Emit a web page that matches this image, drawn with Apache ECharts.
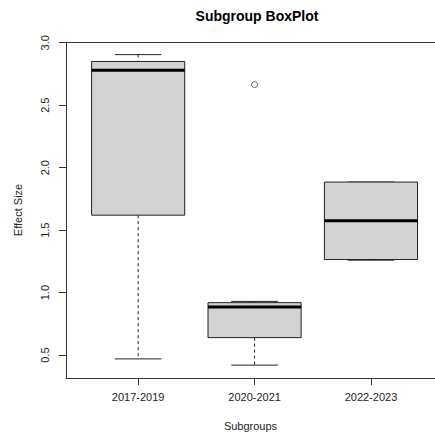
<!DOCTYPE html>
<html>
<head>
<meta charset="utf-8">
<script src="https://cdn.jsdelivr.net/npm/echarts@6/dist/echarts.min.js"></script>
<style>
  html, body { margin: 0; padding: 0; background: #fff; }
  #chart { width: 435px; height: 434px; }
</style>
</head>
<body>
<div id="chart"></div>
<script>
// Five-number summaries per subgroup
const categories = ['2017-2019', '2020-2021', '2022-2023'];
const lowerWhisker = [0.47, 0.42, 1.26];
const lowerQuartile = [1.62, 0.64, 1.265];
const medians = [2.78, 0.885, 1.575];
const upperQuartile = [2.85, 0.92, 1.885];
const upperWhisker = [2.905, 0.93, 1.885];
// Points beyond the whiskers: [group index, value]
const outliers = [[1, 2.665]];
// Tick positions on both axes
const yTicks = [0.5, 1.0, 1.5, 2.0, 2.5, 3.0];
const xTicks = [1, 2, 3];

const boxData = categories.map((c, i) => [
  i + 1, lowerWhisker[i], lowerQuartile[i], medians[i], upperQuartile[i], upperWhisker[i]
]);
const outlierData = outliers.map(o => [o[0] + 1, o[1]]);

const BOX_HALF = 0.4;
const CAP_HALF = 0.2;
const INK = '#222';

// Draws one box: dashed whiskers, staples, filled box and a heavy median bar
function renderBox(params, api) {
  const x = api.value(0);
  const lo = api.value(1), q1 = api.value(2), med = api.value(3), q3 = api.value(4), hi = api.value(5);
  const tl = api.coord([x - BOX_HALF, q3]);
  const br = api.coord([x + BOX_HALF, q1]);
  const mL = api.coord([x - BOX_HALF, med]);
  const mR = api.coord([x + BOX_HALF, med]);
  const cHiL = api.coord([x - CAP_HALF, hi]);
  const cHiR = api.coord([x + CAP_HALF, hi]);
  const cLoL = api.coord([x - CAP_HALF, lo]);
  const cLoR = api.coord([x + CAP_HALF, lo]);
  const cx = api.coord([x, med])[0];
  const yHi = cHiL[1], yLo = cLoL[1], yQ3 = tl[1], yQ1 = br[1];
  return {
    type: 'group',
    children: [
      { type: 'line', shape: { x1: cx, y1: yHi, x2: cx, y2: yQ3 },
        style: { stroke: INK, lineWidth: 1, lineDash: [3, 3] } },
      { type: 'line', shape: { x1: cx, y1: yQ1, x2: cx, y2: yLo },
        style: { stroke: INK, lineWidth: 1, lineDash: [3, 3] } },
      { type: 'line', shape: { x1: cHiL[0], y1: yHi, x2: cHiR[0], y2: yHi },
        style: { stroke: INK, lineWidth: 1 } },
      { type: 'line', shape: { x1: cLoL[0], y1: yLo, x2: cLoR[0], y2: yLo },
        style: { stroke: INK, lineWidth: 1 } },
      { type: 'rect', shape: { x: tl[0], y: yQ3, width: br[0] - tl[0], height: yQ1 - yQ3 },
        style: { fill: '#d3d3d3', stroke: INK, lineWidth: 1 } },
      { type: 'line', shape: { x1: mL[0], y1: mL[1], x2: mR[0], y2: mR[1] },
        style: { stroke: '#000', lineWidth: 3 } }
    ]
  };
}

const FONT = "'Liberation Sans', Arial, sans-serif";
const LABEL = { fontFamily: FONT, fontSize: 11, color: '#222' };
const FRAME = { show: true, lineStyle: { color: '#333', width: 1 } };

const chart = echarts.init(document.getElementById('chart'), null, { renderer: 'svg' });
chart.setOption({
  animation: false,
  backgroundColor: '#fff',
  title: {
    text: 'Subgroup BoxPlot',
    left: 252,
    textAlign: 'center',
    top: 4,
    textStyle: { fontFamily: FONT, fontWeight: 'bold', fontSize: 14, color: '#000' }
  },
  grid: {
    left: 66, right: 0, top: 42, bottom: 56,
    containLabel: false,
    outerBoundsMode: 'none'
  },
  xAxis: [
    {
      type: 'value',
      position: 'bottom',
      min: 0.38, max: 3.55,
      name: 'Subgroups',
      nameLocation: 'middle',
      nameGap: 42,
      nameTextStyle: LABEL,
      axisLine: FRAME,
      splitLine: { show: false },
      axisTick: { show: true, length: 7, lineStyle: { color: '#333' }, customValues: xTicks },
      axisLabel: Object.assign({
        customValues: xTicks,
        margin: 13,
        formatter: v => categories[Math.round(v) - 1] || ''
      }, LABEL)
    },
    {
      // top edge of the plot frame
      type: 'value',
      position: 'top',
      min: 0.38, max: 3.55,
      axisLine: FRAME,
      axisTick: { show: false },
      axisLabel: { show: false },
      splitLine: { show: false }
    }
  ],
  yAxis: {
    type: 'value',
    min: 0.317, max: 3.006,
    name: 'Effect Size',
    nameLocation: 'middle',
    nameGap: 43,
    nameTextStyle: LABEL,
    axisLine: FRAME,
    splitLine: { show: false },
    axisTick: { show: true, length: 7, lineStyle: { color: '#333' }, customValues: yTicks },
    axisLabel: Object.assign({
      customValues: yTicks,
      rotate: 90,
      margin: 16,
      formatter: v => v.toFixed(1)
    }, LABEL)
  },
  series: [
    {
      type: 'custom',
      renderItem: renderBox,
      data: boxData,
      encode: { x: 0, y: [1, 2, 3, 4, 5] },
      silent: true
    },
    {
      type: 'scatter',
      data: outlierData,
      symbol: 'circle',
      symbolSize: 6,
      silent: true,
      itemStyle: { color: 'transparent', borderColor: '#444', borderWidth: 1 }
    }
  ]
});
</script>
</body>
</html>
